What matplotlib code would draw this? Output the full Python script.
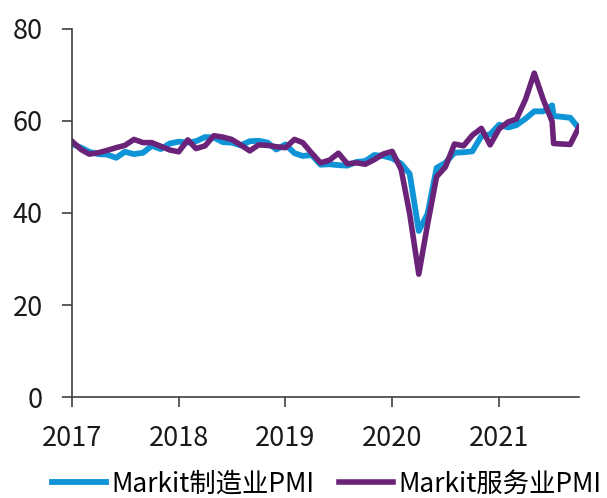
import matplotlib
matplotlib.use("Agg")
import matplotlib.pyplot as plt
import matplotlib.dates as mdates
import pandas as pd

# monthly dates (the Aug-2021 point sits just after Jul in the source chart)
dates = list(pd.date_range("2017-01-01", "2021-07-01", freq="MS")) + \
    list(pd.to_datetime(["2021-07-06", "2021-09-01", "2021-10-01"]))

manufacturing_pmi = [
    55.0, 54.2, 53.3, 52.8, 52.7, 52.0, 53.3, 52.8, 53.1, 54.6, 53.9, 55.1,
    55.5, 55.3, 55.6, 56.5, 56.4, 55.4, 55.3, 54.7, 55.6, 55.7, 55.3, 53.8,
    54.9, 53.0, 52.4, 52.6, 50.5, 50.6, 50.4, 50.3, 51.1, 51.3, 52.6, 52.4,
    51.9, 50.7, 48.5, 36.1, 39.8, 49.8, 50.9, 53.1, 53.2, 53.4, 56.7, 57.1,
    59.2, 58.6, 59.1, 60.5, 62.1, 62.1, 63.4, 61.1, 60.7, 58.4,
]
services_pmi = [
    55.6, 53.8, 52.8, 53.1, 53.6, 54.2, 54.7, 56.0, 55.3, 55.3, 54.5, 53.7,
    53.3, 55.9, 54.0, 54.6, 56.8, 56.5, 56.0, 54.8, 53.5, 54.8, 54.7, 54.4,
    54.2, 56.0, 55.3, 53.0, 50.9, 51.5, 53.0, 50.7, 50.9, 50.6, 51.6, 52.8,
    53.4, 49.4, 39.8, 26.7, 37.5, 47.9, 50.0, 55.0, 54.6, 56.9, 58.4, 54.8,
    58.3, 59.8, 60.4, 64.7, 70.4, 64.6, 59.9, 55.1, 54.9, 58.7,
]
labels = ["Markit制造业PMI", "Markit服务业PMI"]
y_ticks = [0, 20, 40, 60, 80]

plt.rcParams["font.family"] = ["Noto Sans CJK SC", "DejaVu Sans"]

fig = plt.figure(figsize=(6.07, 4.98), dpi=100)
ax = fig.add_axes([0.1186, 0.2028, 0.8353, 0.739])

ax.plot(dates, manufacturing_pmi, color="#0F95D7", lw=4.2,
        solid_joinstyle="round", label=labels[0])
ax.plot(dates, services_pmi, color="#6B2379", lw=4.0,
        solid_joinstyle="round", label=labels[1])

ax.set_xlim(pd.Timestamp("2017-01-01"), pd.Timestamp("2021-10-01"))
ax.set_ylim(0, 80)
ax.set_yticks(y_ticks)
ax.xaxis.set_major_locator(mdates.YearLocator())
ax.xaxis.set_major_formatter(mdates.DateFormatter("%Y"))

for side in ["top", "right"]:
    ax.spines[side].set_visible(False)
for side in ["left", "bottom"]:
    ax.spines[side].set_color("#404040")
    ax.spines[side].set_linewidth(1.2)

ax.tick_params(axis="both", direction="out", length=7, width=1.2,
               color="#404040", labelsize=19.5, labelcolor="#1a1a1a")
ax.tick_params(axis="x", pad=13)
ax.tick_params(axis="y", pad=14)

fig.legend(loc="center", bbox_to_anchor=(0.538, 0.028), ncol=2, frameon=False,
           fontsize=19, handlelength=2.05, handletextpad=0.2,
           columnspacing=0.95, borderpad=0)

fig.savefig("out.png", dpi=100)
